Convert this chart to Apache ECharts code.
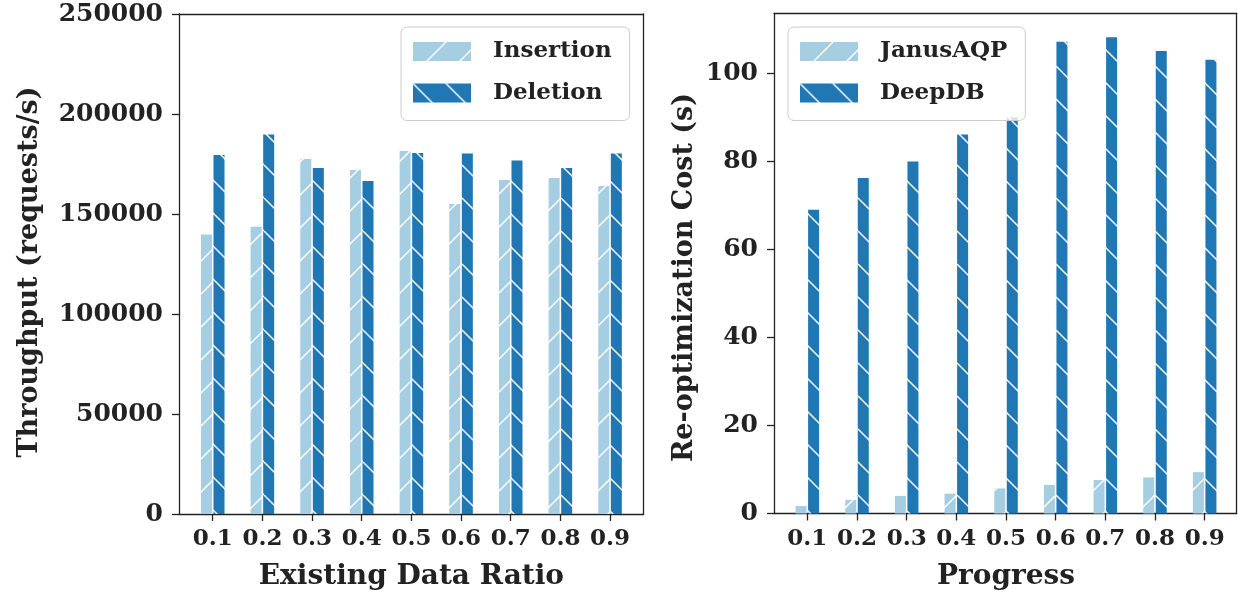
<!DOCTYPE html>
<html>
<head>
<meta charset="utf-8">
<script src="https://cdn.jsdelivr.net/npm/echarts@6/dist/echarts.min.js"></script>
<style>
html,body{margin:0;padding:0;background:#fff;}
#chart{width:1238px;height:596px;}
</style>
</head>
<body>
<div id="chart"></div>
<script>
// ---- data ----
const categories = ['0.1','0.2','0.3','0.4','0.5','0.6','0.7','0.8','0.9'];
const insertion = [139700, 143600, 177500, 172000, 181500, 155000, 167000, 168000, 164000];
const deletion  = [179500, 189700, 173000, 166500, 180500, 180300, 176800, 173000, 180300];
const janusAQP  = [1.7, 3.1, 4.0, 4.5, 5.7, 6.5, 7.6, 8.2, 9.4];
const deepDB    = [69.0, 76.2, 80.0, 86.1, 90.0, 107.2, 108.2, 105.1, 103.1];
const leftTicks  = [0, 50000, 100000, 150000, 200000, 250000];
const rightTicks = [0, 20, 40, 60, 80, 100];

// ---- style ----
const LIGHT = '#a6cee3', DARK = '#1f78b4', INK = '#222222';
const FONT = 'DejaVu Serif';

function hatch(bg, dir) {
  const s = 33;
  const c = document.createElement('canvas');
  c.width = s; c.height = s;
  const g = c.getContext('2d');
  g.fillStyle = bg; g.fillRect(0, 0, s, s);
  g.strokeStyle = '#ffffff'; g.lineWidth = 1.4;
  for (const k of [-s, 0, s]) {
    g.beginPath();
    if (dir === '/') { g.moveTo(k, s); g.lineTo(k + s, 0); }
    else { g.moveTo(k, 0); g.lineTo(k + s, s); }
    g.stroke();
  }
  return { image: c, repeat: 'repeat' };
}

const axisLineStyle = { color: INK, width: 1.3 };
const xTickLabel = { fontFamily: FONT, fontWeight: 'bold', fontSize: 23, color: INK };
const yTickLabel = { fontFamily: FONT, fontWeight: 'bold', fontSize: 25, color: INK };
const nameStyle = { fontFamily: FONT, fontWeight: 'bold', fontSize: 28, color: INK };

function frameX(gi, pos) {
  return { gridIndex: gi, type: 'value', min: 0, max: 1, position: pos,
    axisLine: { show: true, onZero: false, lineStyle: axisLineStyle },
    axisTick: { show: false }, axisLabel: { show: false }, splitLine: { show: false } };
}
function frameYRight(gi) {
  return { gridIndex: gi, type: 'value', min: 0, max: 1, position: 'right',
    axisLine: { show: true, onZero: false, lineStyle: axisLineStyle },
    axisTick: { show: false }, axisLabel: { show: false }, splitLine: { show: false } };
}
function catX(gi, name) {
  return { gridIndex: gi, type: 'category', data: categories, position: 'bottom',
    axisLine: { show: false },
    axisTick: { show: true, alignWithLabel: true, interval: 0, length: 7, lineStyle: { color: INK, width: 1.3 } },
    axisLabel: Object.assign({ margin: 14, interval: 0 }, xTickLabel),
    splitLine: { show: false },
    name: name, nameLocation: 'middle', nameGap: 49, nameTextStyle: nameStyle };
}

const chart = echarts.init(document.getElementById('chart'), null, { renderer: 'canvas', devicePixelRatio: 1 });

const legendBase = {
  orient: 'vertical', top: 27, itemWidth: 58, itemHeight: 19, itemGap: 18.5,
  padding: [13, 18, 16, 12], borderColor: '#cccccc', borderWidth: 1, borderRadius: 6,
  backgroundColor: 'rgba(255,255,255,0.8)', icon: 'rect', selectedMode: false,
  textStyle: { fontFamily: FONT, fontWeight: 'bold', fontSize: 23, color: INK, lineHeight: 19, padding: [0, 0, 0, 17] }
};

const plain = v => String(v);

const barStyle = { barWidth: 11, barGap: '14%' };

const option = {
  animation: false,
  backgroundColor: '#ffffff',
  grid: [
    { left: 179, top: 14, width: 464.5, height: 500 },
    { left: 187.9, top: 14, width: 447, height: 500 },
    { left: 774, top: 13.5, width: 462.7, height: 500 },
    { left: 782.5, top: 13.5, width: 447, height: 500 }
  ],
  xAxis: [
    frameX(0, 'bottom'), frameX(0, 'top'), catX(1, 'Existing Data Ratio'),
    frameX(2, 'bottom'), frameX(2, 'top'), catX(3, 'Progress')
  ],
  yAxis: [
    { gridIndex: 0, type: 'value', min: leftTicks[0], max: leftTicks[leftTicks.length - 1], interval: 50000, position: 'left',
      axisLine: { show: true, onZero: false, lineStyle: axisLineStyle },
      axisTick: { show: true, length: 7, lineStyle: { color: INK, width: 1.3 } },
      axisLabel: Object.assign({ margin: 16, formatter: plain }, yTickLabel), splitLine: { show: false },
      name: 'Throughput (requests/s)', nameLocation: 'middle', nameGap: 136,
      nameTextStyle: Object.assign({}, nameStyle, { fontSize: 27, padding: [0, 16, 0, 0] }) },
    frameYRight(0),
    { gridIndex: 1, type: 'value', min: leftTicks[0], max: leftTicks[leftTicks.length - 1], show: false },
    { gridIndex: 2, type: 'value', min: 0, max: 113.6, interval: 20, position: 'left',
      axisLine: { show: true, onZero: false, lineStyle: axisLineStyle },
      axisTick: { show: true, length: 7, lineStyle: { color: INK, width: 1.3 }, customValues: rightTicks },
      axisLabel: Object.assign({ margin: 16, customValues: rightTicks, formatter: plain }, yTickLabel), splitLine: { show: false },
      name: 'Re-optimization Cost (s)', nameLocation: 'middle', nameGap: 76,
      nameTextStyle: Object.assign({}, nameStyle, { fontSize: 27, padding: [0, 28, 0, 0] }) },
    frameYRight(2),
    { gridIndex: 3, type: 'value', min: 0, max: 113.6, show: false }
  ],
  legend: [
    Object.assign({}, legendBase, { left: 401, data: ['Insertion', 'Deletion'] }),
    Object.assign({}, legendBase, { left: 788, data: ['JanusAQP', 'DeepDB'] })
  ],
  series: [
    Object.assign({ name: 'Insertion', type: 'bar', xAxisIndex: 2, yAxisIndex: 2, data: insertion,
      itemStyle: { color: hatch(LIGHT, '/') } }, barStyle),
    Object.assign({ name: 'Deletion', type: 'bar', xAxisIndex: 2, yAxisIndex: 2, data: deletion,
      itemStyle: { color: hatch(DARK, '\\') } }, barStyle),
    Object.assign({ name: 'JanusAQP', type: 'bar', xAxisIndex: 5, yAxisIndex: 5, data: janusAQP,
      itemStyle: { color: hatch(LIGHT, '/') } }, barStyle),
    Object.assign({ name: 'DeepDB', type: 'bar', xAxisIndex: 5, yAxisIndex: 5, data: deepDB,
      itemStyle: { color: hatch(DARK, '\\') } }, barStyle)
  ]
};
chart.setOption(option);
</script>
</body>
</html>
